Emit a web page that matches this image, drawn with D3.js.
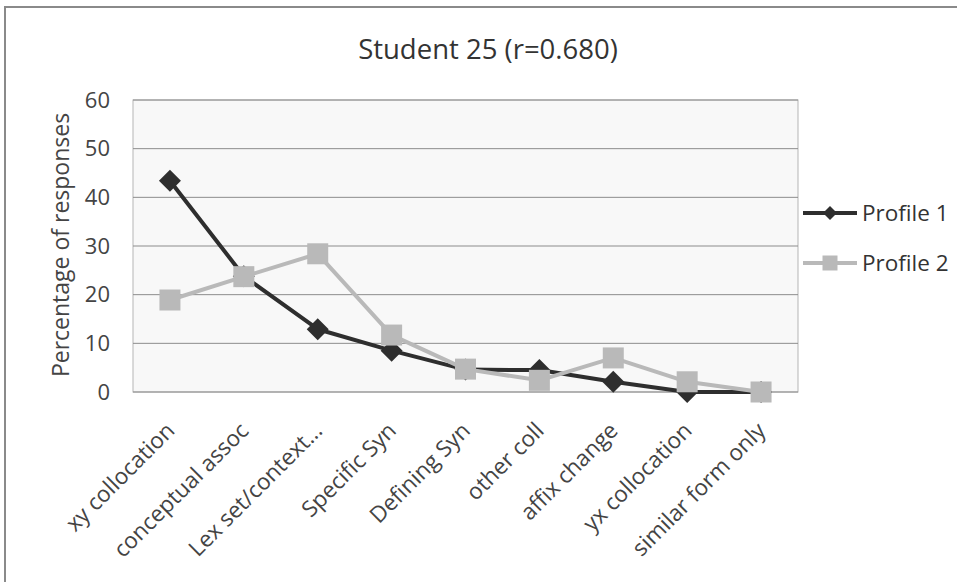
<!DOCTYPE html>
<html>
<head>
<meta charset="utf-8">
<script src="https://cdn.jsdelivr.net/npm/d3@7"></script>
<style>
  html, body { margin: 0; padding: 0; background: #fff; }
  svg { display: block; font-family: "Open Sans", Lato, sans-serif; }
</style>
</head>
<body>
<svg id="chart" width="957" height="582"></svg>
<script>
// Response categories along the x axis
const categories = [
  "xy collocation", "conceptual assoc", "Lex set/context...", "Specific Syn",
  "Defining Syn", "other coll", "affix change", "yx collocation", "similar form only"
];
// Percentage of responses per profile
const profile1 = [43.4, 23.8, 12.9, 8.5, 4.6, 4.5, 2.1, 0, 0];
const profile2 = [18.9, 23.7, 28.4, 11.7, 4.7, 2.4, 7.0, 2.1, 0];
const yTicks = [0, 10, 20, 30, 40, 50, 60];
const seriesNames = ["Profile 1", "Profile 2"];
const title = "Student 25 (r=0.680)";
const yTitle = "Percentage of responses";

const svg = d3.select("#chart");
const plot = { left: 133, right: 798, top: 100, bottom: 392 };

// Outer chart frame (top and left edges)
svg.append("path")
  .attr("d", "M5,582 V7 H957")
  .attr("fill", "none").attr("stroke", "#8a8a8a").attr("stroke-width", 2);

const x = d3.scaleBand().domain(categories).range([plot.left, plot.right]);
const y = d3.scaleLinear().domain([0, 60]).range([plot.bottom, plot.top]);

// Plot area
svg.append("rect")
  .attr("x", plot.left).attr("y", plot.top)
  .attr("width", plot.right - plot.left).attr("height", plot.bottom - plot.top)
  .attr("fill", "#f8f8f8").attr("stroke", "#b5b5b5").attr("stroke-width", 1);

// Horizontal gridlines
svg.append("g").selectAll("line").data(yTicks).join("line")
  .attr("x1", plot.left).attr("x2", plot.right)
  .attr("y1", d => y(d)).attr("y2", d => y(d))
  .attr("stroke", "#8c8c8c").attr("stroke-width", 1);

// Y axis labels
const yAxis = d3.axisLeft(y).tickValues(yTicks).tickSize(0).tickPadding(23);
svg.append("g").attr("transform", `translate(${plot.left},0)`).call(yAxis)
  .call(g => g.select(".domain").remove())
  .selectAll("text")
  .attr("font-size", 22).attr("fill", "#444").attr("font-family", "'Open Sans', sans-serif");

// X axis labels, rotated
const xAxis = d3.axisBottom(x).tickSize(0).tickPadding(0);
svg.append("g").attr("transform", `translate(0,${plot.bottom})`).call(xAxis)
  .call(g => g.select(".domain").remove())
  .selectAll("text")
  .attr("font-size", 22.5).attr("fill", "#444").attr("font-family", "'Open Sans', sans-serif")
  .attr("text-anchor", "end")
  .attr("dy", 0)
  .attr("transform", "translate(6,40) rotate(-45)");

// Title
svg.append("text")
  .attr("x", 488).attr("y", 59).attr("text-anchor", "middle")
  .attr("font-size", 27.5).attr("fill", "#333").text(title);

// Y axis title
svg.append("text")
  .attr("transform", "translate(69,245) rotate(-90)")
  .attr("text-anchor", "middle").attr("font-size", 23).attr("fill", "#444")
  .text(yTitle);

const cx = d => x(d) + x.bandwidth() / 2;
const line = d3.line().x(d => cx(d.c)).y(d => y(d.v));
const toPts = vals => vals.map((v, i) => ({ c: categories[i], v }));

// Marker shapes: a square turned 45 degrees, and a plain square
const diamond = r => `M0,${-r}L${r},0L0,${r}L${-r},0Z`;
const square = r => `M${-r},${-r}H${r}V${r}H${-r}Z`;

const styles = [
  { color: "#2e2e2e", shape: diamond, r: 11, lr: 7, data: profile1 },
  { color: "#b9b9b9", shape: square, r: 10.5, lr: 7.5, data: profile2 }
];

// Series drawn in order, so Profile 2 sits over Profile 1
styles.forEach(s => {
  const pts = toPts(s.data);
  svg.append("path").datum(pts)
    .attr("d", line).attr("fill", "none")
    .attr("stroke", s.color).attr("stroke-width", 4).attr("stroke-linejoin", "round");
  svg.append("g").selectAll("path").data(pts).join("path")
    .attr("transform", d => `translate(${cx(d.c)},${y(d.v)})`)
    .attr("d", s.shape(s.r))
    .attr("fill", s.color);
});

// Legend
const legend = svg.append("g");
seriesNames.forEach((name, i) => {
  const s = styles[i];
  const ly = 213 + i * 50;
  legend.append("line").attr("x1", 803).attr("x2", 857).attr("y1", ly).attr("y2", ly)
    .attr("stroke", s.color).attr("stroke-width", 4);
  legend.append("path").attr("transform", `translate(830,${ly})`)
    .attr("d", s.shape(s.lr)).attr("fill", s.color);
  legend.append("text").attr("x", 862).attr("y", ly + 8)
    .attr("font-size", 22.5).attr("fill", "#333").text(name);
});
</script>
</body>
</html>
